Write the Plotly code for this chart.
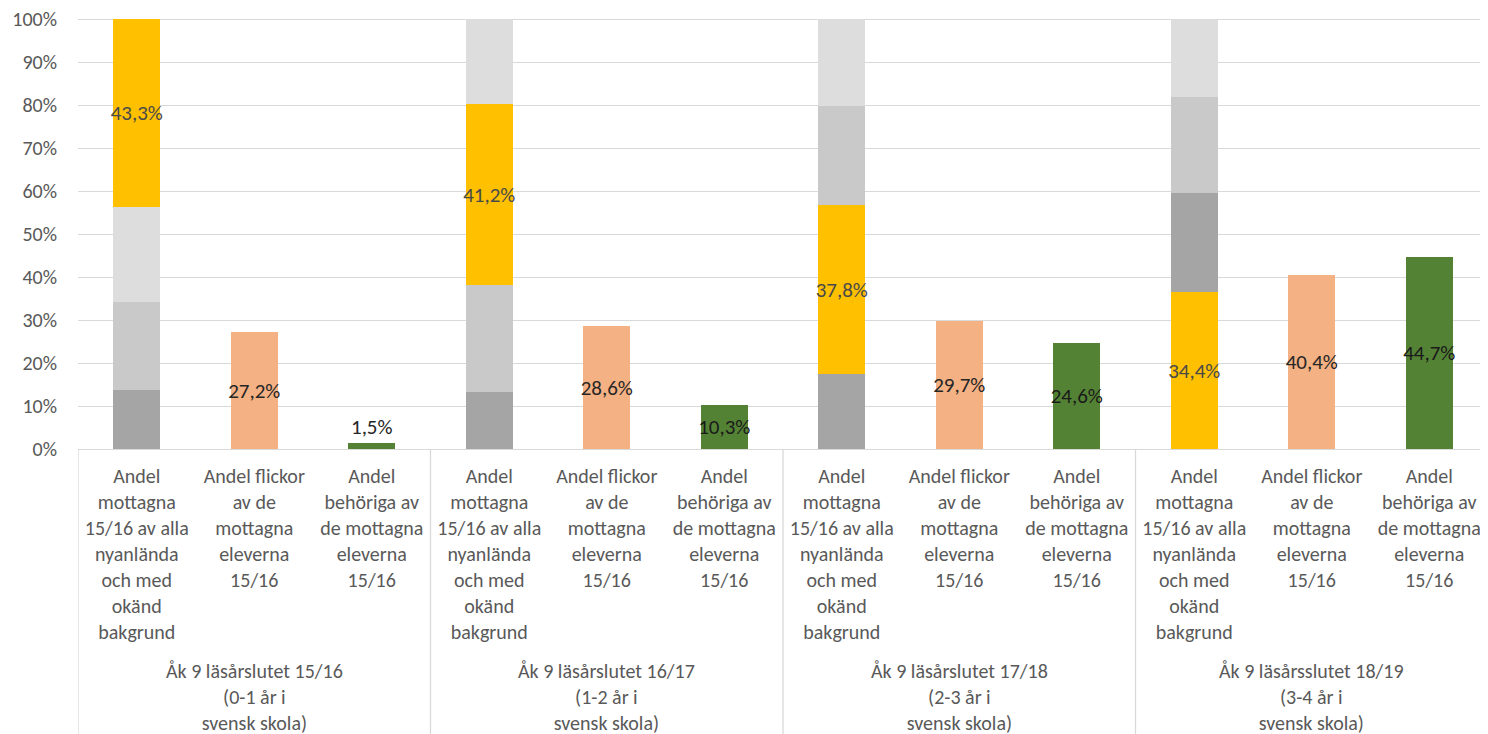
import plotly.graph_objects as go

# ---------------- data ----------------
group_labels = [
    "Åk 9 läsårslutet 15/16<br>(0-1 år i<br>svensk skola)",
    "Åk 9 läsårslutet 16/17<br>(1-2 år i<br>svensk skola)",
    "Åk 9 läsårslutet 17/18<br>(2-3 år i<br>svensk skola)",
    "Åk 9 läsårsslutet 18/19<br>(3-4 år i<br>svensk skola)",
]
bar_labels = [
    "Andel<br>mottagna<br>15/16 av alla<br>nyanlända<br>och med<br>okänd<br>bakgrund",
    "Andel flickor<br>av de<br>mottagna<br>eleverna<br>15/16",
    "Andel<br>behöriga av<br>de mottagna<br>eleverna<br>15/16",
]

# stacked "Andel mottagna" bar: segments bottom -> top, with role of each segment
stack_values = [
    [13.7, 13.2, 17.4, 36.5],   # level 1
    [20.5, 24.9, 39.3, 23.1],   # level 2
    [22.0, 42.2, 23.1, 22.3],   # level 3
    [43.8, 19.7, 20.2, 18.1],   # level 4
]
stack_roles = [
    ["dark", "dark", "dark", "yellow"],
    ["mid", "mid", "yellow", "dark"],
    ["light", "yellow", "mid", "mid"],
    ["yellow", "light", "light", "light"],
]
yellow_labels = ["43,3%", "41,2%", "37,8%", "34,4%"]

girls_values = [27.2, 28.6, 29.7, 40.4]
girls_labels = ["27,2%", "28,6%", "29,7%", "40,4%"]
eligible_values = [1.5, 10.3, 24.6, 44.7]
eligible_labels = ["1,5%", "10,3%", "24,6%", "44,7%"]

y_ticks = list(range(0, 101, 10))

# ---------------- styling ----------------
FONT = "Carlito, Calibri, Lato, sans-serif"
role_color = {"dark": "#A5A5A5", "mid": "#C9C9C9", "light": "#DDDDDD", "yellow": "#FFC000"}

n_groups = len(group_labels)
n_bars = len(bar_labels)
x_stack = [g * n_bars + 0 for g in range(n_groups)]
x_girls = [g * n_bars + 1 for g in range(n_groups)]
x_elig = [g * n_bars + 2 for g in range(n_groups)]

fig = go.Figure()

for level, (vals, roles) in enumerate(zip(stack_values, stack_roles)):
    texts = [yellow_labels[i] if r == "yellow" else "" for i, r in enumerate(roles)]
    fig.add_trace(go.Bar(
        x=x_stack, y=vals, width=0.4,
        marker=dict(color=[role_color[r] for r in roles], line=dict(width=0)),
        text=texts, textposition="inside", insidetextanchor="middle",
        textangle=0,
        insidetextfont=dict(family=FONT, size=21, color="#4A4A4A"),
        hoverinfo="skip", showlegend=False,
    ))

fig.add_trace(go.Bar(
    x=x_girls, y=girls_values, width=0.4,
    marker=dict(color="#F4B183", line=dict(width=0)),
    text=girls_labels, textposition="inside", insidetextanchor="middle", textangle=0,
    insidetextfont=dict(family=FONT, size=21, color="#262626"),
    hoverinfo="skip", showlegend=False,
))
fig.add_trace(go.Bar(
    x=x_elig, y=eligible_values, width=0.4,
    marker=dict(color="#548235", line=dict(width=0)),
    text=eligible_labels, textposition="auto", insidetextanchor="middle", textangle=0,
    insidetextfont=dict(family=FONT, size=21, color="#1A1A1A"),
    outsidetextfont=dict(family=FONT, size=21, color="#262626"),
    hoverinfo="skip", showlegend=False,
))

# page body has an 8px margin, so the figure is sized/offset to compensate
W, H = 1480, 726
mt, mb, ml, mr = 9, 285, 70, 0
plot_h = H - mt - mb
bottom_px = mt + plot_h

tickvals = []
ticktext = []
for g in range(n_groups):
    for b in range(n_bars):
        tickvals.append(g * n_bars + b)
        ticktext.append(bar_labels[b])

# group labels as annotations
for g, lab in enumerate(group_labels):
    fig.add_annotation(
        x=g * n_bars + 1, xref="x",
        y=-(649 - bottom_px) / plot_h, yref="paper",
        yanchor="top", xanchor="center",
        text=lab, showarrow=False,
        font=dict(family=FONT, size=20, color="#595959"),
    )

# divider lines below the axis
for g in range(n_groups + 1):
    xv = g * n_bars - 0.5
    if g == n_groups:
        xv -= 0.01
    fig.add_shape(
        type="line", xref="x", yref="paper",
        x0=xv, x1=xv, y0=0, y1=-(H - bottom_px) / plot_h,
        line=dict(color="#D9D9D9", width=1.3),
    )

fig.update_layout(
    width=W, height=H,
    margin=dict(l=ml, r=mr, t=mt, b=mb, autoexpand=False),
    barmode="stack",
    plot_bgcolor="white", paper_bgcolor="white",
    font=dict(family=FONT, size=20, color="#595959"),
    uniformtext=dict(mode="show", minsize=21),
    showlegend=False,
)
fig.update_xaxes(
    range=[-0.5, n_groups * n_bars - 0.5],
    tickmode="array", tickvals=tickvals, ticktext=ticktext,
    tickfont=dict(family=FONT, size=20, color="#595959"),
    showgrid=False, zeroline=False, automargin=False,
    showline=True, linecolor="#D9D9D9", linewidth=1.3,
    ticks="", ticklabelstandoff=9,
)
fig.update_yaxes(
    range=[0, 100.5], tickmode="array", tickvals=y_ticks,
    ticktext=[f"{v}%" for v in y_ticks],
    tickfont=dict(family=FONT, size=20, color="#595959"),
    showgrid=True, gridcolor="#D9D9D9", gridwidth=1.3, automargin=False,
    zeroline=False, showline=False, ticks="", ticklabelstandoff=20,
    ticklabeloverflow="allow",
)

fig.write_html("out.html")
